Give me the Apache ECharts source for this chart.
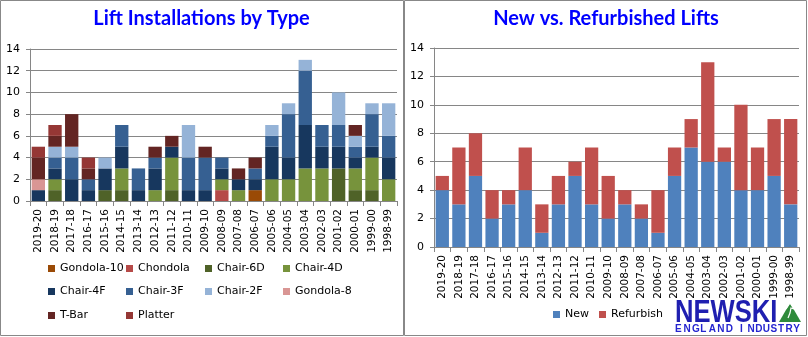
<!DOCTYPE html>
<html><head><meta charset="utf-8">
<script src="https://cdn.jsdelivr.net/npm/echarts@6/dist/echarts.min.js"></script>
<style>html,body{margin:0;padding:0;background:#fff}#c{width:808px;height:337px}</style>
</head><body><div id="c"></div>
<script>
// ---- data ----
const categories = ['2019-20','2018-19','2017-18','2016-17','2015-16','2014-15','2013-14','2012-13','2011-12','2010-11','2009-10','2008-09','2007-08','2006-07','2005-06','2004-05','2003-04','2002-03','2001-02','2000-01','1999-00','1998-99'];
const gondola10 = [0,0,0,0,0,0,0,0,0,0,0,0,0,1,0,0,0,0,0,0,0,0];
const chondola  = [0,0,0,0,0,0,0,0,0,0,0,1,0,0,0,0,0,0,0,0,0,0];
const chair6D   = [0,1,0,0,1,1,0,0,1,0,0,0,0,0,0,0,0,0,3,1,1,0];
const chair4D   = [0,1,0,0,0,2,0,1,3,0,0,1,1,0,2,2,3,3,0,2,3,2];
const chair4F   = [1,1,2,1,2,2,1,2,1,1,1,1,1,1,3,2,4,2,2,1,1,2];
const chair3F   = [0,1,2,1,0,2,2,1,0,3,3,1,0,1,1,4,5,2,2,1,3,2];
const chair2F   = [0,1,1,0,1,0,0,0,0,3,0,0,0,0,1,1,1,0,3,1,1,3];
const gondola8  = [1,0,0,0,0,0,0,0,0,0,0,0,0,0,0,0,0,0,0,0,0,0];
const tBar      = [2,1,3,1,0,0,0,1,1,0,1,0,1,1,0,0,0,0,0,1,0,0];
const platter   = [1,1,0,1,0,0,0,0,0,0,0,0,0,0,0,0,0,0,0,0,0,0];
const newLifts  = [4,3,5,2,3,4,1,3,5,3,2,3,2,1,5,7,6,6,4,4,5,3];
const refurbish = [1,4,3,2,1,3,2,2,1,4,3,1,1,3,2,2,7,1,6,3,4,6];
const yTicks = [0,2,4,6,8,10,12,14];

const typeSeries = [
  ['Gondola-10', gondola10, '#9A4A06'],
  ['Chondola',   chondola,  '#B64A48'],
  ['Chair-6D',   chair6D,   '#4F6228'],
  ['Chair-4D',   chair4D,   '#77933C'],
  ['Chair-4F',   chair4F,   '#17375E'],
  ['Chair-3F',   chair3F,   '#366092'],
  ['Chair-2F',   chair2F,   '#95B3D7'],
  ['Gondola-8',  gondola8,  '#D99694'],
  ['T-Bar',      tBar,      '#632523'],
  ['Platter',    platter,   '#953735']
];
const nrSeries = [['New', newLifts, '#4F81BD'], ['Refurbish', refurbish, '#C0504D']];

const FONT = 'DejaVu Sans';
const GRAY = '#868686';

function catAxis(gi) {
  return {
    type: 'category', gridIndex: gi, data: categories,
    axisLine: { show: true, lineStyle: { color: GRAY, width: 1 } },
    axisTick: { show: true, length: 5, interval: 0, lineStyle: { color: GRAY } },
    axisLabel: { rotate: 90, interval: 0, fontSize: 10.5, fontFamily: FONT, color: '#000', margin: 8 }
  };
}
function valAxis(gi) {
  return {
    type: 'value', gridIndex: gi, min: yTicks[0], max: yTicks[yTicks.length - 1], interval: 2,
    axisLine: { show: true, lineStyle: { color: GRAY, width: 1 } },
    axisTick: { show: true, length: 4, lineStyle: { color: GRAY } },
    splitLine: { show: true, lineStyle: { color: GRAY, width: 1 } },
    axisLabel: { fontSize: 11, fontFamily: FONT, color: '#000', margin: 10 }
  };
}

const series = [];
typeSeries.forEach(([n, d, c]) => series.push({
  name: n, type: 'bar', stack: 'types', xAxisIndex: 0, yAxisIndex: 0, data: d,
  itemStyle: { color: c }, barCategoryGap: '20%', animation: false
}));
nrSeries.forEach(([n, d, c]) => series.push({
  name: n, type: 'bar', stack: 'nr', xAxisIndex: 1, yAxisIndex: 1, data: d,
  itemStyle: { color: c }, barCategoryGap: '20%', animation: false
}));

const colX = [48, 126, 205, 283];
const rowY = [270, 293, 317];
const legends = typeSeries.map(([n], i) => ({
  data: [n], left: colX[i % 4], top: rowY[Math.floor(i / 4)] - 7, padding: 0,
  itemWidth: 7, itemHeight: 7, icon: 'rect', selectedMode: false,
  textStyle: { fontSize: 11, fontFamily: FONT, color: '#000' }
}));
legends.push({ data: ['New'], left: 553, top: 316 - 7, padding: 0, itemWidth: 7, itemHeight: 7, icon: 'rect', selectedMode: false, textStyle: { fontSize: 11, fontFamily: FONT, color: '#000' } });
legends.push({ data: ['Refurbish'], left: 599, top: 316 - 7, padding: 0, itemWidth: 7, itemHeight: 7, icon: 'rect', selectedMode: false, textStyle: { fontSize: 11, fontFamily: FONT, color: '#000' } });

// logo letters
const subWords = [['ENGLAND', 675, 8.45], ['INDUSTRY', 740, 7.6]];
const subEls = [];
subWords.forEach(([w, x0, pitch]) => {
  [...w].forEach((ch, i) => subEls.push({ type: 'text', x: x0 + i * pitch, y: 329.5,
    style: { text: ch, font: 'bold 10px "Liberation Sans"', fill: '#2525d0', verticalAlign: 'middle', align: 'left' } }));
});

const graphic = [
  { type: 'rect', shape: { x: 0.5, y: 0.5, width: 403, height: 335 }, style: { fill: 'none', stroke: '#888', lineWidth: 1 } },
  { type: 'rect', shape: { x: 404.5, y: 0.5, width: 402, height: 335 }, style: { fill: 'none', stroke: '#888', lineWidth: 1 } },
  { type: 'text', x: 675, y: 313.5, scaleX: 0.8, style: { text: 'NEWSKI', font: 'bold 32px "Liberation Sans"', fill: '#1f1fb0', verticalAlign: 'middle', align: 'left' } },
  { type: 'polygon', shape: { points: [[779, 322], [790, 303], [801, 322]] }, style: { fill: '#2f8a3b' } },
  { type: 'polyline', shape: { points: [[786, 309], [790, 303], [794, 309], [791, 308], [790, 313], [788, 318]] }, style: { stroke: '#fff', lineWidth: 1.2, fill: 'none' } }
].concat(subEls);

const option = {
  animation: false,
  title: [
    { text: 'Lift Installations by Type', left: 201.5, textAlign: 'center', top: 9, padding: 0, textStyle: { color: '#0000ff', fontFamily: 'Lato', fontWeight: 'bold', fontSize: 20 } },
    { text: 'New vs. Refurbished Lifts', left: 606, textAlign: 'center', top: 9, padding: 0, textStyle: { color: '#0000ff', fontFamily: 'Lato', fontWeight: 'bold', fontSize: 20 } }
  ],
  grid: [
    { left: 30, top: 49, width: 367, height: 152, containLabel: false },
    { left: 434, top: 48, width: 365, height: 199, containLabel: false }
  ],
  xAxis: [catAxis(0), catAxis(1)],
  yAxis: [valAxis(0), valAxis(1)],
  legend: legends,
  series: series,
  graphic: graphic
};
const chart = echarts.init(document.getElementById('c'));
chart.setOption(option);
</script>
</body></html>
